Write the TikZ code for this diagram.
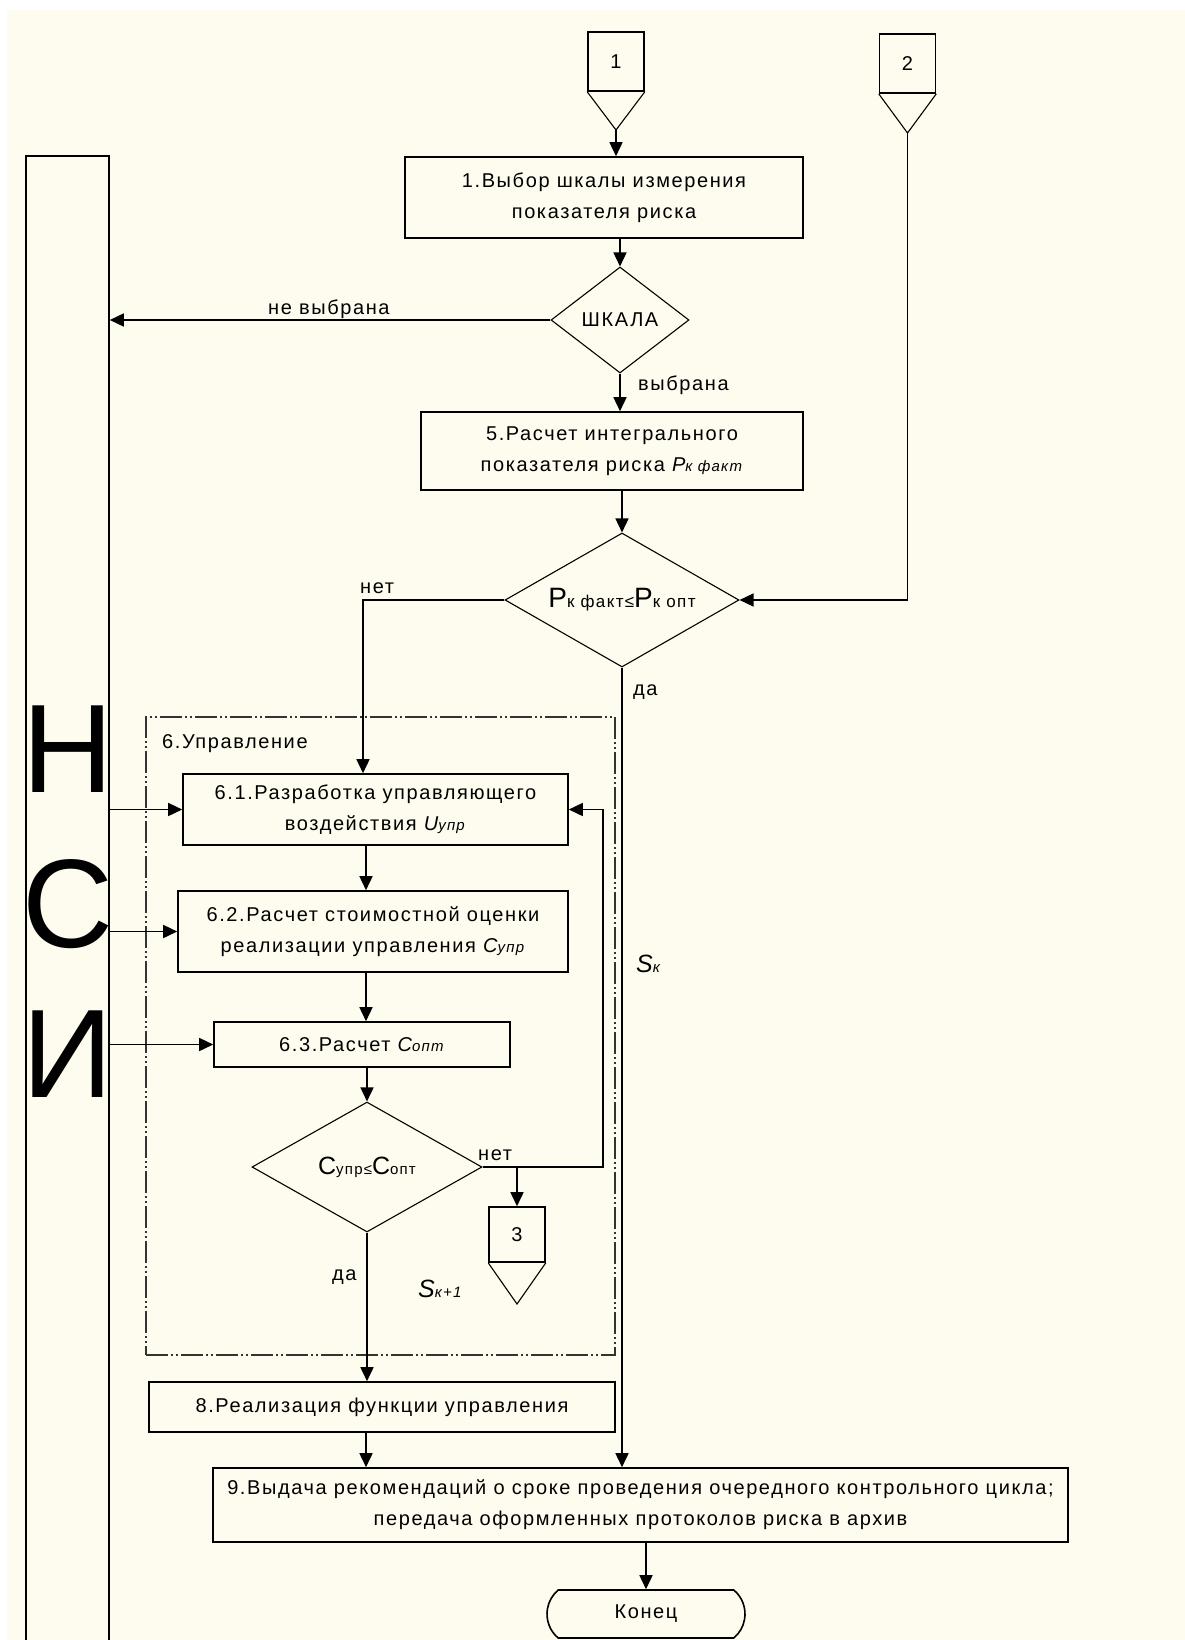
\documentclass[tikz,border=0pt]{standalone}
\usepackage{fontspec}
\setmainfont{Liberation Sans}
\newfontfamily\spaced[LetterSpace=8]{Liberation Sans}
\usetikzlibrary{arrows.meta,shapes.geometric,shapes.misc,calc}
\definecolor{cream}{RGB}{254,251,239}
\newcommand\fs{\fontsize{20pt}{31pt}\selectfont\spaced}
\newcommand\smf{\fontsize{15pt}{15pt}\selectfont}
\newcommand\smg{\fontsize{17pt}{17pt}\selectfont}
\newcommand\bigf{\fontsize{126pt}{126pt}\selectfont}
\tikzset{
 ln/.style={line width=1.6pt, draw=black},
 box/.style={ln, rectangle, inner sep=0pt, align=center, font=\fs},
 dia/.style={draw=black, line width=1.1pt, diamond, inner sep=0pt, align=center, font=\fs},
 arr/.style={ln, -{Triangle[length=14pt,width=13pt]}},
 lbl/.style={font=\fs, inner sep=0pt, anchor=base west},
 conn/.style={ln, rectangle, inner sep=0pt, minimum width=56pt, font=\fs},
 tri/.style={draw=black, line width=1.1pt},
 grp/.style={draw=black!80, line width=1.4pt, dash pattern=on 22pt off 3pt on 2pt off 3pt on 2pt off 3pt},
}
\begin{document}
\begin{tikzpicture}[x=1pt,y=-1pt]
\useasboundingbox (0,0) rectangle (1185,1640);
\fill[cream] (7,10) rectangle (1185,1640);

% NSI column
\node[ln, rectangle, inner sep=0pt, minimum width=83pt, minimum height=1505pt, anchor=north] (nsi) at (67.5,155) {};
\node[font=\bigf, anchor=base, inner sep=0pt] (lN) at (67.5,792) {Н};
\node[font=\bigf, anchor=base, inner sep=0pt] (lS) at (67.5,947) {С};
\node[font=\bigf, anchor=base, inner sep=0pt] (lI) at (67.5,1097) {И};

% group box
\node[grp, rectangle, inner sep=0pt, minimum width=469pt, minimum height=638pt] (grp) at (380.5,1036) {};
\node[lbl] (grplbl) at (162,748) {6.Управление};

% off-page connectors
\node[conn, minimum height=59pt] (c1) at (616,61.5) {1};
\coordinate (c1tip) at (616,130);
\draw[tri] (c1.south west) -- (c1tip) -- (c1.south east);
\node[conn, minimum height=59pt] (c2) at (907.5,63.5) {2};
\coordinate (c2tip) at (907.5,133);
\draw[tri] (c2.south west) -- (c2tip) -- (c2.south east);

% boxes
\node[box, minimum width=398pt, minimum height=81pt] (b1) at (604,197.5) {1.Выбор шкалы измерения\\показателя риска};
\node[dia, aspect=1.3, minimum width=138pt, minimum height=106pt] (d1) at (620,320) {ШКАЛА};
\node[box, minimum width=382pt, minimum height=78pt] (b5) at (612,451) {5.Расчет интегрального\\показателя риска \textit{P{\smf к факт}}};
\node[dia, aspect=1.75, minimum width=234pt, minimum height=134pt] (d2) at (622,600) {{\fontsize{28pt}{28pt}\selectfont P}{\smg к факт≤}{\fontsize{28pt}{28pt}\selectfont P}{\smg к опт}};
\node[box, minimum width=385pt, minimum height=71pt] (b61) at (375.5,809.5) {6.1.Разработка управляющего\\воздействия \textit{U{\smf упр}}};
\node[box, minimum width=390pt, minimum height=81pt] (b62) at (373,931.5) {6.2.Расчет стоимостной оценки\\реализации управления \textit{C{\smf упр}}};
\node[box, minimum width=296pt, minimum height=45pt] (b63) at (362,1044.5) {6.3.Расчет \textit{C{\smf опт}}};
\node[dia, aspect=1.77, minimum width=230pt, minimum height=130pt] (d3) at (367,1167) {{\fontsize{25pt}{25pt}\selectfont C}{\smf упр≤}{\fontsize{25pt}{25pt}\selectfont C}{\smf опт}};
\node[conn, minimum height=55pt] (c3) at (517,1234.5) {3};
\coordinate (c3tip) at (517,1304);
\draw[tri] (c3.south west) -- (c3tip) -- (c3.south east);
\node[box, minimum width=466pt, minimum height=50pt] (b8) at (382,1407) {8.Реализация функции управления};
\node[box, minimum width=855pt, minimum height=74pt] (b9) at (640.5,1505) {9.Выдача рекомендаций о сроке проведения очередного контрольного цикла;\\передача оформленных протоколов риска в архив};
\node[ln, rounded rectangle, rounded rectangle arc length=100, inner sep=0pt, minimum width=198pt, minimum height=48pt, font=\fs] (end) at (646,1614) {Конец};

% helper columns
\coordinate (colA) at (366,0);
\coordinate (fbx) at (603,0);
\coordinate (nox) at (363,0);

% connectors
\draw[arr] (c1tip) -- (c1tip |- b1.north);
\draw[arr] (d1.north |- b1.south) -- (d1.north);
\draw[arr] (d1.west) -- (d1.west -| nsi.east);
\draw[arr] (d1.south) -- (d1.south |- b5.north);
\draw[arr] (d2.north |- b5.south) -- (d2.north);
\draw[arr] (c2tip) |- (d2.east);
\draw[arr] (d2.west) -- (d2.west -| nox) -- (nox |- b61.north);
\draw[arr] (d2.south) -- (d2.south |- b9.north);
\draw[arr] (nsi.east |- b61.west) -- (b61.west);
\draw[arr] (nsi.east |- b62.west) -- (b62.west);
\draw[arr] (nsi.east |- b63.west) -- (b63.west);
\draw[arr] (colA |- b61.south) -- (colA |- b62.north);
\draw[arr] (colA |- b62.south) -- (colA |- b63.north);
\draw[arr] (d3.north |- b63.south) -- (d3.north);
\draw[arr] (d3.east) -- (d3.east -| fbx) -- (fbx |- b61.east) -- (b61.east);
\draw[arr] (d3.east -| c3.north) -- (c3.north);
\draw[arr] (d3.south) -- (d3.south |- b8.north);
\draw[arr] (colA |- b8.south) -- (colA |- b9.north);
\draw[arr] (end.north |- b9.south) -- (end.north);

% labels
\node[lbl] (lnv) at (268,314) {не выбрана};
\node[lbl] (lv) at (638,390) {выбрана};
\node[lbl] (ln1) at (360,593) {нет};
\node[lbl] (ld1) at (633,695) {да};
\node[lbl] (lsk) at (636,972) {\textit{{\fontsize{25pt}{25pt}\selectfont S}{\smf к}}};
\node[lbl] (ln2) at (478,1160) {нет};
\node[lbl] (ld2) at (332,1280) {да};
\node[lbl] (lsk1) at (418,1297) {\textit{{\fontsize{25pt}{25pt}\selectfont S}{\smf к+1}}};
\end{tikzpicture}
\end{document}
